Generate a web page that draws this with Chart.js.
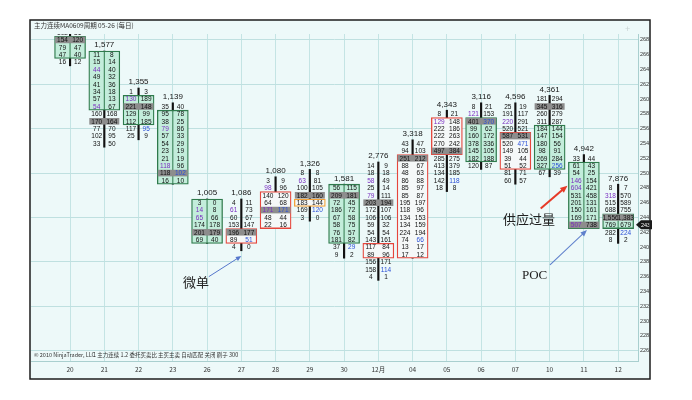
<!DOCTYPE html>
<html>
<head>
<meta charset="utf-8">
<script src="https://cdn.jsdelivr.net/npm/chart.js@4.4.0/dist/chart.umd.min.js"></script>
<style>
  html, body { margin: 0; padding: 0; background: #fff; }
  #wrap { width: 692px; height: 400px; }
</style>
</head>
<body>
<div id="wrap"><canvas id="fp" width="692" height="400"></canvas></div>
<script>
// dates on the x axis (one footprint bar per day)
const dates = ['20', '21', '22', '23', '26', '27', '28', '29', '30', '12月', '04', '05', '06', '07', '10', '11', '12'];
const totals = [null, 1577, 1355, 1139, 1005, 1086, 1080, 1326, 1581, 2776, 3318, 4343, 3116, 4596, 4361, 4942, 7876];

// price range of each bar (one row per price)
const highs  = [269, 266, 261, 259, 246, 246, 249, 250, 248, 251, 254, 258, 259, 259, 260, 252, 248];
const lows   = [265, 254, 255, 249, 241, 240, 243, 244, 239, 236, 239, 248, 251, 249, 250, 243, 241];
const opens  = [268, 266, 260, 258, 246, 241, 243, 246, 248, 239, 239, 253, 257, 251, 256, 251, 244];
const closes = [266, 259, 257, 249, 241, 242, 247, 246, 241, 240, 252, 257, 252, 255, 251, 243, 243];
const poc    = [268, 257, 259, 250, 242, 242, 245, 247, 247, 246, 252, 253, 257, 255, 259, 243, 244];

// bid / ask volume per row, from the high row down to the low row
const bids = [
  [102, 154, 79, 47, 16],
  [11, 15, 44, 49, 41, 34, 57, 54, 160, 170, 77, 102, 33],
  [1, 130, 221, 129, 112, 117, 25],
  [35, 95, 38, 79, 57, 54, 23, 21, 118, 118, 16],
  [3, 14, 65, 174, 201, 69],
  [4, 61, 60, 153, 196, 89, 4],
  [3, 98, 140, 64, 171, 48, 22],
  [8, 63, 100, 182, 183, 169, 3],
  [56, 209, 72, 186, 67, 58, 76, 181, 37, 9],
  [14, 18, 58, 25, 79, 203, 172, 106, 59, 54, 143, 117, 89, 156, 158, 4],
  [43, 94, 251, 88, 48, 86, 85, 85, 195, 118, 134, 134, 224, 74, 13, 17],
  [8, 129, 222, 222, 270, 497, 285, 413, 134, 142, 18],
  [8, 121, 401, 99, 160, 378, 145, 182, 120],
  [25, 191, 220, 520, 587, 520, 149, 39, 51, 81, 60],
  [181, 345, 260, 311, 184, 147, 180, 98, 269, 327, 67],
  [33, 61, 54, 146, 604, 531, 201, 150, 169, 507],
  [8, 318, 515, 688, 1556, 769, 282, 8]
];
const asks = [
  [81, 120, 47, 40, 12],
  [8, 14, 40, 32, 36, 18, 13, 67, 168, 164, 70, 95, 50],
  [3, 189, 148, 99, 185, 95, 9],
  [40, 78, 25, 86, 33, 29, 19, 19, 96, 102, 10],
  [0, 8, 66, 178, 179, 40],
  [11, 73, 67, 147, 177, 51, 0],
  [9, 96, 120, 68, 171, 44, 16],
  [8, 81, 105, 160, 144, 120, 0],
  [115, 181, 45, 72, 58, 75, 57, 82, 29, 2],
  [9, 18, 49, 14, 111, 194, 107, 106, 32, 54, 161, 84, 96, 171, 114, 1],
  [47, 103, 212, 67, 63, 88, 97, 87, 197, 96, 153, 159, 194, 66, 17, 12],
  [21, 148, 186, 263, 242, 384, 275, 379, 185, 118, 8],
  [21, 153, 370, 62, 172, 336, 105, 188, 87],
  [19, 117, 291, 521, 531, 471, 105, 44, 52, 71, 57],
  [294, 316, 279, 287, 144, 154, 56, 91, 284, 256, 39],
  [44, 43, 25, 154, 421, 458, 131, 161, 171, 738],
  [7, 570, 589, 755, 1383, 679, 224, 2]
];

// imbalance cells [bar, price]
const bidImbalance = [[1, 264], [1, 259], [2, 260], [3, 256], [3, 251], [4, 245], [4, 244], [5, 245], [6, 248], [6, 245],
  [7, 249], [9, 249], [9, 247], [11, 257], [12, 258], [13, 257], [15, 249], [15, 248], [15, 243], [16, 247]];
const askImbalance = [[2, 256], [3, 250], [5, 241], [6, 245], [7, 245], [8, 240], [9, 237], [10, 241], [11, 249],
  [12, 257], [13, 254], [14, 251], [16, 242]];

const priceLabels = [268, 266, 264, 262, 260, 258, 256, 254, 252, 250, 248, 246, 244, 242, 240, 238, 236, 234, 232, 230, 228, 226];

const idx = dates.map((d, i) => i);
const isUp = i => closes[i] > opens[i];
const isDown = i => closes[i] < opens[i];
const boxColor = i => isUp(i) ? '#e5463c' : (isDown(i) ? '#2f7a4c' : '#f2a23a');
const boxFill = i => isDown(i) ? '#c3eddb' : '#f5f8f8';
const has = (list, i, p) => list.some(e => e[0] === i && e[1] === p);

const frame = { left: 30, top: 20, right: 650, bottom: 379 };

const background = {
  id: 'background',
  beforeDraw(chart) {
    const ctx = chart.ctx;
    ctx.save();
    ctx.fillStyle = '#ffffff';
    ctx.fillRect(0, 0, chart.width, chart.height);
    ctx.fillStyle = '#edf9f9';
    ctx.fillRect(frame.left, frame.top, frame.right - frame.left, frame.bottom - frame.top);
    ctx.restore();
  }
};

const footprint = {
  id: 'footprint',
  afterDatasetsDraw(chart) {
    const { ctx, chartArea: a, scales: { x, y } } = chart;
    const rowH = Math.abs(y.getPixelForValue(1) - y.getPixelForValue(0));
    ctx.save();
    ctx.beginPath();
    ctx.rect(a.left, a.top, a.right - a.left, a.bottom - a.top);
    ctx.clip();
    idx.forEach(i => {
      const cx = x.getPixelForValue(i);
      const top = Math.max(opens[i], closes[i]);
      const bot = Math.min(opens[i], closes[i]);
      // divider inside green boxes
      if (isDown(i)) {
        ctx.strokeStyle = '#2f7a4c';
        ctx.lineWidth = 1;
        ctx.beginPath();
        ctx.moveTo(cx, y.getPixelForValue(top + 0.5));
        ctx.lineTo(cx, y.getPixelForValue(bot - 0.5));
        ctx.stroke();
      }
      // point of control row
      const py = y.getPixelForValue(poc[i]);
      ctx.fillStyle = '#8d8d8d';
      ctx.fillRect(cx - 15, py - rowH / 2 + 0.4, 30, rowH - 0.8);

      ctx.font = '6.5px "Liberation Sans", Arial, sans-serif';
      ctx.textAlign = 'center';
      ctx.textBaseline = 'middle';
      bids[i].forEach((b, k) => {
        const p = highs[i] - k;
        const ry = y.getPixelForValue(p) + 0.5;
        ctx.fillStyle = has(bidImbalance, i, p) ? '#7a2fc0' : '#111';
        ctx.fillText(b.toLocaleString('en-US'), cx - 7.6, ry);
        ctx.fillStyle = has(askImbalance, i, p) ? '#2b4fd6' : '#111';
        ctx.fillText(asks[i][k].toLocaleString('en-US'), cx + 7.6, ry);
      });
      if (totals[i] !== null) {
        ctx.font = '8px "Liberation Sans", Arial, sans-serif';
        ctx.fillStyle = '#151515';
        ctx.fillText(totals[i].toLocaleString('en-US'), cx, y.getPixelForValue(highs[i]) - 9.5);
      }
    });
    ctx.restore();
  }
};

function arrow(ctx, x1, y1, x2, y2, color, w, head) {
  const ang = Math.atan2(y2 - y1, x2 - x1);
  ctx.strokeStyle = color;
  ctx.fillStyle = color;
  ctx.lineWidth = w;
  ctx.beginPath();
  ctx.moveTo(x1, y1);
  ctx.lineTo(x2 - Math.cos(ang) * head * 0.8, y2 - Math.sin(ang) * head * 0.8);
  ctx.stroke();
  ctx.beginPath();
  ctx.moveTo(x2, y2);
  ctx.lineTo(x2 - head * Math.cos(ang - 0.4), y2 - head * Math.sin(ang - 0.4));
  ctx.lineTo(x2 - head * Math.cos(ang + 0.4), y2 - head * Math.sin(ang + 0.4));
  ctx.closePath();
  ctx.fill();
}

const decorations = {
  id: 'decorations',
  afterDraw(chart) {
    const { ctx, scales: { x, y } } = chart;
    const px = v => x.getPixelForValue(v);
    const py = v => y.getPixelForValue(v);
    ctx.save();

    // annotations
    ctx.textAlign = 'center';
    ctx.textBaseline = 'middle';
    ctx.fillStyle = '#222';
    ctx.font = '13px "Noto Sans CJK SC", sans-serif';
    ctx.fillText('微单', px(3.68), py(235.3));
    ctx.fillText('供应过量', px(13.4), py(243.8));
    ctx.font = '13px "Liberation Serif", serif';
    ctx.fillText('POC', px(13.56), py(236.1));
    arrow(ctx, px(4.05), py(236.0), px(5.0), py(238.8), '#5677cc', 1, 6);
    arrow(ctx, px(13.74), py(245.2), px(14.52), py(248.3), '#e63a28', 2, 8);
    arrow(ctx, px(14.01), py(237.6), px(15.09), py(242.3), '#5f80cc', 1.1, 7);

    // last price tag on the axis
    const ly = py(closes[closes.length - 1]);
    ctx.fillStyle = '#1a1a1a';
    ctx.beginPath();
    ctx.moveTo(636, ly);
    ctx.lineTo(641, ly - 4.5);
    ctx.lineTo(652, ly - 4.5);
    ctx.lineTo(652, ly + 4.5);
    ctx.lineTo(641, ly + 4.5);
    ctx.closePath();
    ctx.fill();
    ctx.fillStyle = '#fff';
    ctx.font = '5.5px "Liberation Sans", sans-serif';
    ctx.fillText(String(closes[closes.length - 1]), 645.5, ly + 0.3);

    // texts
    ctx.textAlign = 'left';
    ctx.fillStyle = '#333';
    ctx.font = '6.5px "Noto Sans CJK SC", sans-serif';
    ctx.fillText('主力连续MA0609周期 05-26 (每日)', 34, 26);
    ctx.font = '5.5px "Noto Sans CJK SC", "Liberation Sans", sans-serif';
    ctx.fillText('© 2010 NinjaTrader, LLC', 34, 355);
    ctx.fillText('1 主力连续 1.2 委托买卖比 主买主卖 自动匹配 关闭 刷子 300', 93, 355);
    ctx.fillStyle = '#c8d4d4';
    ctx.font = '9px "Liberation Sans", sans-serif';
    ctx.fillText('+', 625, 30);

    // frame
    ctx.strokeStyle = '#1c1c1c';
    ctx.lineWidth = 1.5;
    ctx.strokeRect(frame.left, frame.top, frame.right - frame.left, frame.bottom - frame.top);
    ctx.restore();
  }
};

new Chart(document.getElementById('fp'), {
  type: 'bar',
  data: {
    datasets: [
      {
        // candle wick through all rows
        data: idx.map(i => ({ x: i, y: [lows[i] - 0.5, highs[i] + 0.5] })),
        backgroundColor: '#111',
        barThickness: 1.5,
        grouped: false,
        order: 1
      },
      {
        // open / close box
        data: idx.map(i => ({ x: i, y: [Math.min(opens[i], closes[i]) - 0.5, Math.max(opens[i], closes[i]) + 0.5] })),
        backgroundColor: idx.map(boxFill),
        borderColor: idx.map(boxColor),
        borderWidth: 1.3,
        borderSkipped: false,
        barThickness: 31,
        grouped: false,
        order: 0
      }
    ]
  },
  options: {
    responsive: false,
    animation: false,
    layout: { autoPadding: false, padding: { left: 31, top: 34, right: 42, bottom: 24 } },
    plugins: { legend: { display: false }, tooltip: { enabled: false } },
    scales: {
      x: {
        type: 'linear',
        min: -1.14,
        max: 16.58,
        offset: false,
        afterBuildTicks: s => { s.ticks = idx.map(i => ({ value: i })); },
        afterFit: s => { s.height = 15; },
        ticks: {
          callback: v => dates[v],
          autoSkip: false,
          maxRotation: 0,
          padding: 5,
          color: '#333',
          font: { size: 6.5, family: '"Noto Sans CJK SC", "Liberation Sans", sans-serif' }
        },
        grid: { color: '#c4e4e4', drawTicks: false, offset: false },
        border: { color: '#a9cfcf' }
      },
      y: {
        position: 'right',
        min: 224.6,
        max: 268.8,
        afterBuildTicks: s => { s.ticks = priceLabels.map(v => ({ value: v })); },
        afterFit: s => { s.width = 12; },
        ticks: {
          padding: 2,
          color: '#333',
          font: { size: 5.5, family: '"Liberation Sans Narrow", "Liberation Sans", sans-serif' }
        },
        grid: {
          drawTicks: false,
          color: c => (c.tick && (c.tick.value - 244) % 6 === 0) ? '#bfe0e0' : 'rgba(0,0,0,0)'
        },
        border: { color: '#a9cfcf' }
      }
    }
  },
  plugins: [background, footprint, decorations]
});
</script>
</body>
</html>
